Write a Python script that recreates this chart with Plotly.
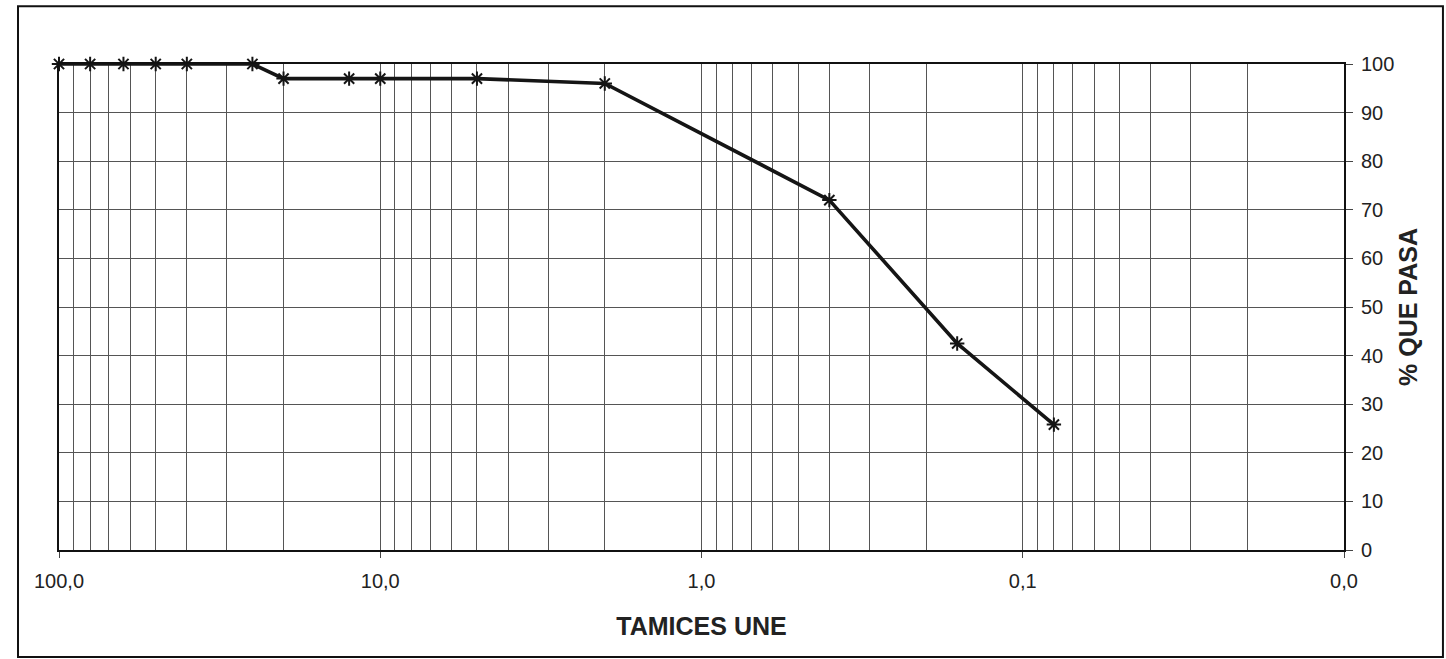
import plotly.graph_objects as go

# Sieve sizes (mm, UNE series) and cumulative percent passing
sieve_mm = [100, 80, 63, 50, 40, 25, 20, 12.5, 10, 5, 2, 0.4, 0.16, 0.08]
pct_passing = [100, 100, 100, 100, 100, 100, 97, 97, 97, 97, 96, 72, 42.5, 25.8]

# Axis ticks
x_tickvals = [100, 10, 1, 0.1, 0.01]
x_ticktext = ["100,0", "10,0", "1,0", "0,1", "0,0"]
y_tickvals = list(range(0, 101, 10))

# Log minor grid: 2..9 in each decade from 0.01 to 100
minor_vals = [m * 10.0 ** e for e in range(-2, 2) for m in range(2, 10)]

FONT = "Liberation Sans, Arial, sans-serif"

fig = go.Figure()
fig.add_trace(go.Scatter(
    x=sieve_mm,
    y=pct_passing,
    mode="lines+markers",
    line=dict(color="#151515", width=3.6),
    marker=dict(symbol="asterisk-open", size=12,
                line=dict(color="#151515", width=2)),
    showlegend=False,
    cliponaxis=False,
))

fig.update_layout(
    width=1446,
    height=659,
    margin=dict(l=59, r=102, t=64, b=109),
    paper_bgcolor="white",
    plot_bgcolor="white",
    font=dict(family=FONT, color="#222", size=20),
    xaxis=dict(
        type="log",
        range=[2, -2],
        tickmode="array",
        tickvals=x_tickvals,
        ticktext=x_ticktext,
        ticks="outside",
        ticklen=6,
        tickcolor="#444",
        ticklabelstandoff=6,
        tickfont=dict(size=20, color="#222"),
        showgrid=True,
        gridcolor="#555",
        gridwidth=1,
        minor=dict(tickvals=minor_vals, showgrid=True,
                   gridcolor="#555", gridwidth=1, ticks=""),
        showline=True,
        linecolor="#111",
        linewidth=2,
        mirror=True,
        zeroline=False,
        title=dict(text="<b>TAMICES UNE</b>", font=dict(size=25, color="#222"),
                   standoff=26),
    ),
    yaxis=dict(
        side="right",
        range=[0, 100],
        tickmode="array",
        tickvals=y_tickvals,
        ticks="outside",
        ticklen=7,
        tickcolor="#444",
        ticklabelstandoff=4,
        tickfont=dict(size=20, color="#222"),
        showgrid=True,
        gridcolor="#555",
        gridwidth=1,
        showline=True,
        linecolor="#111",
        linewidth=2,
        mirror=True,
        zeroline=False,
        title=dict(text="<b>% QUE PASA</b>", font=dict(size=25, color="#222"),
                   standoff=6),
    ),
    shapes=[
        # outer chart frame
        dict(type="rect", xref="paper", yref="paper",
             x0=-0.0319, x1=1.0770, y0=-0.220, y1=1.119,
             line=dict(color="#111", width=2), fillcolor="rgba(0,0,0,0)",
             layer="above"),
    ],
)

fig.write_html("out.html")
